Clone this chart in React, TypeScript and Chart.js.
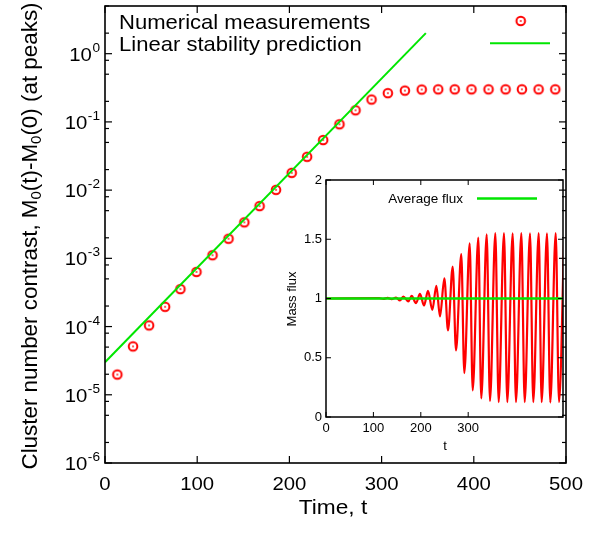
import React, { useEffect, useRef } from "react";
import { Chart, registerables } from "chart.js";
Chart.register(...registerables);

const W = 598;
const H = 535;

// ---------- main plot data ----------
const measT = [13.4, 30.4, 47.8, 65.2, 81.8, 99.2, 116.6, 134.0, 151.1, 167.7, 185.5, 202.5, 219.2, 236.6, 254.3, 271.7, 289.1, 306.8, 325.3, 343.5, 361.4, 379.3, 397.5, 416.0, 434.5, 452.2, 470.3, 488.4];
const measV = [1.98e-5, 5.12e-5, 1.04e-4, 1.95e-4, 3.54e-4, 6.32e-4, 1.11e-3, 1.94e-3, 3.37e-3, 5.83e-3, 1.01e-2, 1.79e-2, 3.08e-2, 5.42e-2, 9.23e-2, 0.148, 0.213, 0.264, 0.288, 0.298, 0.3, 0.3, 0.3, 0.3, 0.3, 0.3, 0.3, 0.3];
const predT = [0, 348];
const predV = [3.0e-5, 2.0];
const xTicks = [0, 100, 200, 300, 400, 500];
const xTickLabels = ["0", "100", "200", "300", "400", "500"];
const yDecades = [-6, -5, -4, -3, -2, -1, 0];
const yMinorMult = [2, 5, 8];
const legendLabels = ["Numerical measurements", "Linear stability prediction"];
const xTitle = "Time, t";
const yTitleParts: [string, boolean][] = [
  ["Cluster number contrast, M", false],
  ["0", true],
  ["(t)-M", false],
  ["0", true],
  ["(0) (at peaks)", false],
];

// ---------- inset data ----------
const fluxStartT = [0];
const fluxStartV = [1];
const fluxPeakT = [112, 130, 147.7, 163, 180.8, 198.3, 215.2, 232.8, 249.7, 267.3, 285.4, 303.1, 321.3, 339, 357.2, 375.5, 393.8, 412.1, 430.4, 448.7, 466.2, 484.6, 502.6];
const fluxPeakV = [1.003, 1.005, 1.008, 1.017, 1.022, 1.039, 1.064, 1.107, 1.171, 1.27, 1.374, 1.466, 1.514, 1.542, 1.551, 1.551, 1.55, 1.551, 1.55, 1.551, 1.55, 1.551, 1.55];
const fluxTroughT = [121, 138.5, 156, 173.7, 189.9, 206.8, 224.3, 240.5, 257.4, 274.3, 291.8, 309.5, 327.6, 346, 364.3, 382.5, 400.8, 419.2, 437.3, 455, 473.2, 491.6];
const fluxTroughV = [0.997, 0.994, 0.983, 0.975, 0.961, 0.941, 0.904, 0.848, 0.73, 0.561, 0.371, 0.224, 0.157, 0.135, 0.126, 0.126, 0.126, 0.126, 0.126, 0.126, 0.122, 0.126];
const avgFluxT = [0, 500];
const avgFluxV = [1, 1];
const insetXTicks = [0, 100, 200, 300];
const insetXLabels = ["0", "100", "200", "300"];
const insetYTicks = [0, 0.5, 1, 1.5, 2];
const insetYLabels = ["0", "0.5", "1", "1.5", "2"];
const insetLegend = "Average flux";
const insetXTitle = "t";
const insetYTitle = "Mass flux";

const FONT = '"Liberation Sans", Arial, Helvetica, sans-serif';
const RED = "#ff0000";
const GREEN = "#00e600";

function txt(
  ctx: CanvasRenderingContext2D,
  s: string,
  x: number,
  y: number,
  size: number,
  align: CanvasTextAlign,
  baseline: CanvasTextBaseline,
  sx = 1
) {
  ctx.save();
  ctx.font = `${size}px ${FONT}`;
  ctx.fillStyle = "#000";
  ctx.translate(x, y);
  ctx.scale(sx, 1);
  ctx.textAlign = align;
  ctx.textBaseline = baseline;
  ctx.fillText(s, 0, 0);
  ctx.restore();
}

function line(ctx: CanvasRenderingContext2D, x1: number, y1: number, x2: number, y2: number) {
  ctx.beginPath();
  ctx.moveTo(x1, y1);
  ctx.lineTo(x2, y2);
  ctx.stroke();
}

function makeMarker() {
  const mk = document.createElement("canvas");
  mk.width = 14;
  mk.height = 14;
  const c = mk.getContext("2d")!;
  c.strokeStyle = RED;
  c.lineWidth = 2;
  c.beginPath();
  c.arc(7, 7, 4.3, 0, Math.PI * 2);
  c.stroke();
  c.fillStyle = RED;
  c.fillRect(6.2, 6.2, 1.6, 1.6);
  return mk;
}

export default function App() {
  const mainRef = useRef<HTMLCanvasElement>(null);
  const insetRef = useRef<HTMLCanvasElement>(null);

  useEffect(() => {
    const marker = makeMarker();

    const mainPlugin = {
      id: "mainDeco",
      afterDraw(chart: any) {
        const ctx: CanvasRenderingContext2D = chart.ctx;
        const a = chart.chartArea;
        const xs = chart.scales.x;
        const ys = chart.scales.y;
        ctx.save();
        ctx.strokeStyle = "#000";
        ctx.lineWidth = 1.6;
        ctx.strokeRect(a.left, a.top, a.right - a.left, a.bottom - a.top);
        ctx.lineWidth = 1.2;
        xTicks.forEach((t) => {
          const px = xs.getPixelForValue(t);
          line(ctx, px, a.bottom, px, a.bottom - 7);
          line(ctx, px, a.top, px, a.top + 7);
        });
        yDecades.forEach((d) => {
          const py = ys.getPixelForValue(Math.pow(10, d));
          line(ctx, a.left, py, a.left + 7, py);
          line(ctx, a.right, py, a.right - 7, py);
          yMinorMult.forEach((m) => {
            const v = m * Math.pow(10, d);
            if (v <= 5) {
              const pm = ys.getPixelForValue(v);
              line(ctx, a.left, pm, a.left + 4, pm);
              line(ctx, a.right, pm, a.right - 4, pm);
            }
          });
        });
        ctx.restore();

        // x tick labels
        xTicks.forEach((t, i) => {
          txt(ctx, xTickLabels[i], xs.getPixelForValue(t), 485, 19, "center", "middle", 1.07);
        });
        // y tick labels 10^d
        yDecades.forEach((d) => {
          const py = ys.getPixelForValue(Math.pow(10, d));
          const sup = String(d);
          ctx.save();
          ctx.font = `13px ${FONT}`;
          const ws = ctx.measureText(sup).width * 1.05;
          ctx.restore();
          const right = 100;
          txt(ctx, sup, right - ws, py - 2, 13, "left", "alphabetic", 1.05);
          txt(ctx, "10", right - ws - 0.5, py + 7, 19, "right", "alphabetic", 1.07);
        });
        // x title
        txt(ctx, xTitle, 333, 514, 21, "center", "alphabetic", 1.08);

        // y title (rotated, with subscripts)
        ctx.save();
        const big = 22.4;
        const small = 15;
        let total = 0;
        const widths = yTitleParts.map(([s, sub]) => {
          ctx.font = `${sub ? small : big}px ${FONT}`;
          const w = ctx.measureText(s).width;
          total += w;
          return w;
        });
        ctx.translate(29, 236);
        ctx.rotate(-Math.PI / 2);
        ctx.fillStyle = "#000";
        ctx.textAlign = "left";
        ctx.textBaseline = "alphabetic";
        let cx = -total / 2;
        yTitleParts.forEach(([s, sub], i) => {
          ctx.font = `${sub ? small : big}px ${FONT}`;
          ctx.fillText(s, cx, sub ? 11.5 : 7.5);
          cx += widths[i];
        });
        ctx.restore();

        // legend
        txt(ctx, legendLabels[0], 119, 29.3, 21, "left", "alphabetic", 1.05);
        txt(ctx, legendLabels[1], 119, 50.7, 21, "left", "alphabetic", 1.05);
        ctx.drawImage(marker, 520.7 - 7, 21 - 7);
        ctx.save();
        ctx.strokeStyle = GREEN;
        ctx.lineWidth = 2;
        line(ctx, 490, 43.3, 550, 43.3);
        ctx.restore();
      },
    };

    const mainChart = new Chart(mainRef.current!, {
      type: "scatter",
      data: {
        datasets: [
          {
            type: "line",
            data: predT.map((t, i) => ({ x: t, y: predV[i] })),
            borderColor: GREEN,
            borderWidth: 2,
            pointRadius: 0,
            fill: false,
          } as any,
          {
            data: measT.map((t, i) => ({ x: t, y: measV[i] })),
            pointStyle: marker as any,
            pointRadius: 5,
            showLine: false,
          },
        ],
      },
      options: {
        responsive: false,
        animation: false,
        events: [],
        layout: { padding: { left: 105, top: 4, right: 32, bottom: 72 } },
        plugins: { legend: { display: false }, tooltip: { enabled: false } },
        scales: {
          x: { type: "linear", min: 0, max: 500, display: false },
          y: { type: "logarithmic", min: 1e-6, max: 5, display: false },
        },
      },
      plugins: [mainPlugin],
    });

    // inset
    const flux: { x: number; y: number }[] = [];
    fluxStartT.forEach((t, i) => flux.push({ x: t, y: fluxStartV[i] }));
    fluxPeakT.forEach((t, i) => flux.push({ x: t, y: fluxPeakV[i] }));
    fluxTroughT.forEach((t, i) => flux.push({ x: t, y: fluxTroughV[i] }));
    flux.sort((p, q) => p.x - q.x);

    const insetPlugin = {
      id: "insetDeco",
      afterDraw(chart: any) {
        const ctx: CanvasRenderingContext2D = chart.ctx;
        const a = chart.chartArea;
        const xs = chart.scales.x;
        const ys = chart.scales.y;
        ctx.save();
        ctx.strokeStyle = "#000";
        ctx.lineWidth = 1.5;
        ctx.strokeRect(a.left, a.top, a.right - a.left, a.bottom - a.top);
        ctx.lineWidth = 1;
        insetXTicks.forEach((t) => {
          const px = xs.getPixelForValue(t);
          line(ctx, px, a.bottom, px, a.bottom - 5);
          line(ctx, px, a.top, px, a.top + 5);
        });
        insetYTicks.forEach((v) => {
          const py = ys.getPixelForValue(v);
          line(ctx, a.left, py, a.left + 5, py);
          line(ctx, a.right, py, a.right - 5, py);
        });
        ctx.restore();
        insetXTicks.forEach((t, i) => {
          txt(ctx, insetXLabels[i], xs.getPixelForValue(t), 428.5, 13, "center", "middle");
        });
        insetYTicks.forEach((v, i) => {
          txt(ctx, insetYLabels[i], 322, ys.getPixelForValue(v), 13, "right", "middle");
        });
        txt(ctx, insetXTitle, 445, 446, 13, "center", "middle");
        ctx.save();
        ctx.translate(292, 299);
        ctx.rotate(-Math.PI / 2);
        ctx.font = `13px ${FONT}`;
        ctx.fillStyle = "#000";
        ctx.textAlign = "center";
        ctx.textBaseline = "middle";
        ctx.fillText(insetYTitle, 0, 0);
        ctx.restore();
        txt(ctx, insetLegend, 463, 199, 13.5, "right", "middle");
        ctx.save();
        ctx.strokeStyle = GREEN;
        ctx.lineWidth = 2.5;
        line(ctx, 477, 198.5, 537, 198.5);
        ctx.restore();
      },
    };

    const insetChart = new Chart(insetRef.current!, {
      type: "scatter",
      data: {
        datasets: [
          {
            data: avgFluxT.map((t, i) => ({ x: t, y: avgFluxV[i] })),
            borderColor: GREEN,
            borderWidth: 2.5,
            pointRadius: 0,
            showLine: true,
          },
          {
            data: flux,
            borderColor: RED,
            borderWidth: 2.2,
            pointRadius: 0,
            showLine: true,
            cubicInterpolationMode: "monotone",
            clip: 0,
          } as any,
        ],
      },
      options: {
        responsive: false,
        animation: false,
        events: [],
        layout: { padding: { left: 326, top: 180, right: 35, bottom: 118 } },
        plugins: { legend: { display: false }, tooltip: { enabled: false } },
        scales: {
          x: { type: "linear", min: 0, max: 500, display: false },
          y: { type: "linear", min: 0, max: 2, display: false },
        },
      },
      plugins: [insetPlugin],
    });

    return () => {
      mainChart.destroy();
      insetChart.destroy();
    };
  }, []);

  const st: React.CSSProperties = { position: "absolute", left: 0, top: 0, width: W, height: H };
  return (
    <div>
      <canvas ref={mainRef} width={W} height={H} style={st} />
      <canvas ref={insetRef} width={W} height={H} style={st} />
    </div>
  );
}
